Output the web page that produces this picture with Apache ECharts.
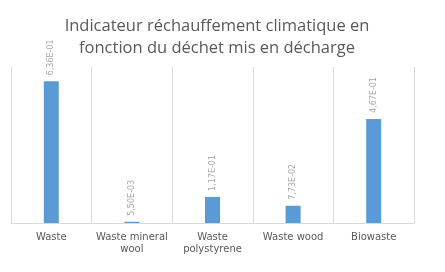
<!DOCTYPE html>
<html><head><meta charset="utf-8">
<script src="https://cdn.jsdelivr.net/npm/echarts@6/dist/echarts.min.js"></script>
<style>html,body{margin:0;padding:0;background:#fff}#c{width:445px;height:272px}</style>
</head><body><div id="c"></div>
<script>
var titleText = 'Indicateur réchauffement climatique en\nfonction du déchet mis en décharge';
var categories = ['Waste', 'Waste mineral\nwool', 'Waste\npolystyrene', 'Waste wood', 'Biowaste'];
var values = [0.636, 0.0055, 0.117, 0.0773, 0.467];

function fmt(v) {
  var s = v.toExponential(2).split('e');
  var m = s[0].replace('.', ',');
  var e = parseInt(s[1], 10);
  var sign = e < 0 ? '-' : '+';
  var a = Math.abs(e);
  return m + 'E' + sign + (a < 10 ? '0' + a : a);
}

var chart = echarts.init(document.getElementById('c'), null, {renderer: 'canvas'});
chart.setOption({
  animation: false,
  backgroundColor: '#ffffff',
  title: {
    text: titleText,
    left: 212,
    textAlign: 'center',
    top: 10,
    textStyle: {fontFamily: 'Open Sans', fontSize: 16.5, fontWeight: 'normal', color: '#595959', lineHeight: 22}
  },
  grid: {left: 11, right: 31, top: 67, bottom: 49},
  xAxis: {
    type: 'category',
    data: categories,
    axisLine: {lineStyle: {color: '#d9d9d9'}},
    axisTick: {show: false},
    splitLine: {show: true, lineStyle: {color: '#d9d9d9'}},
    axisLabel: {color: '#595959', fontFamily: 'DejaVu Sans', fontSize: 10, margin: 8, lineHeight: 12, interval: 0}
  },
  yAxis: {type: 'value', min: 0, max: 0.7, show: false, splitLine: {show: false}},
  series: [{
    type: 'bar',
    data: values,
    barWidth: 15,
    itemStyle: {color: '#5b9bd5'},
    label: {
      show: true,
      position: 'top',
      rotate: 90,
      align: 'left',
      verticalAlign: 'middle',
      distance: 6,
      color: '#a6a6a6',
      fontFamily: 'DejaVu Sans',
      fontSize: 8,
      formatter: function (p) { return fmt(p.value); }
    }
  }]
});
</script></body></html>
